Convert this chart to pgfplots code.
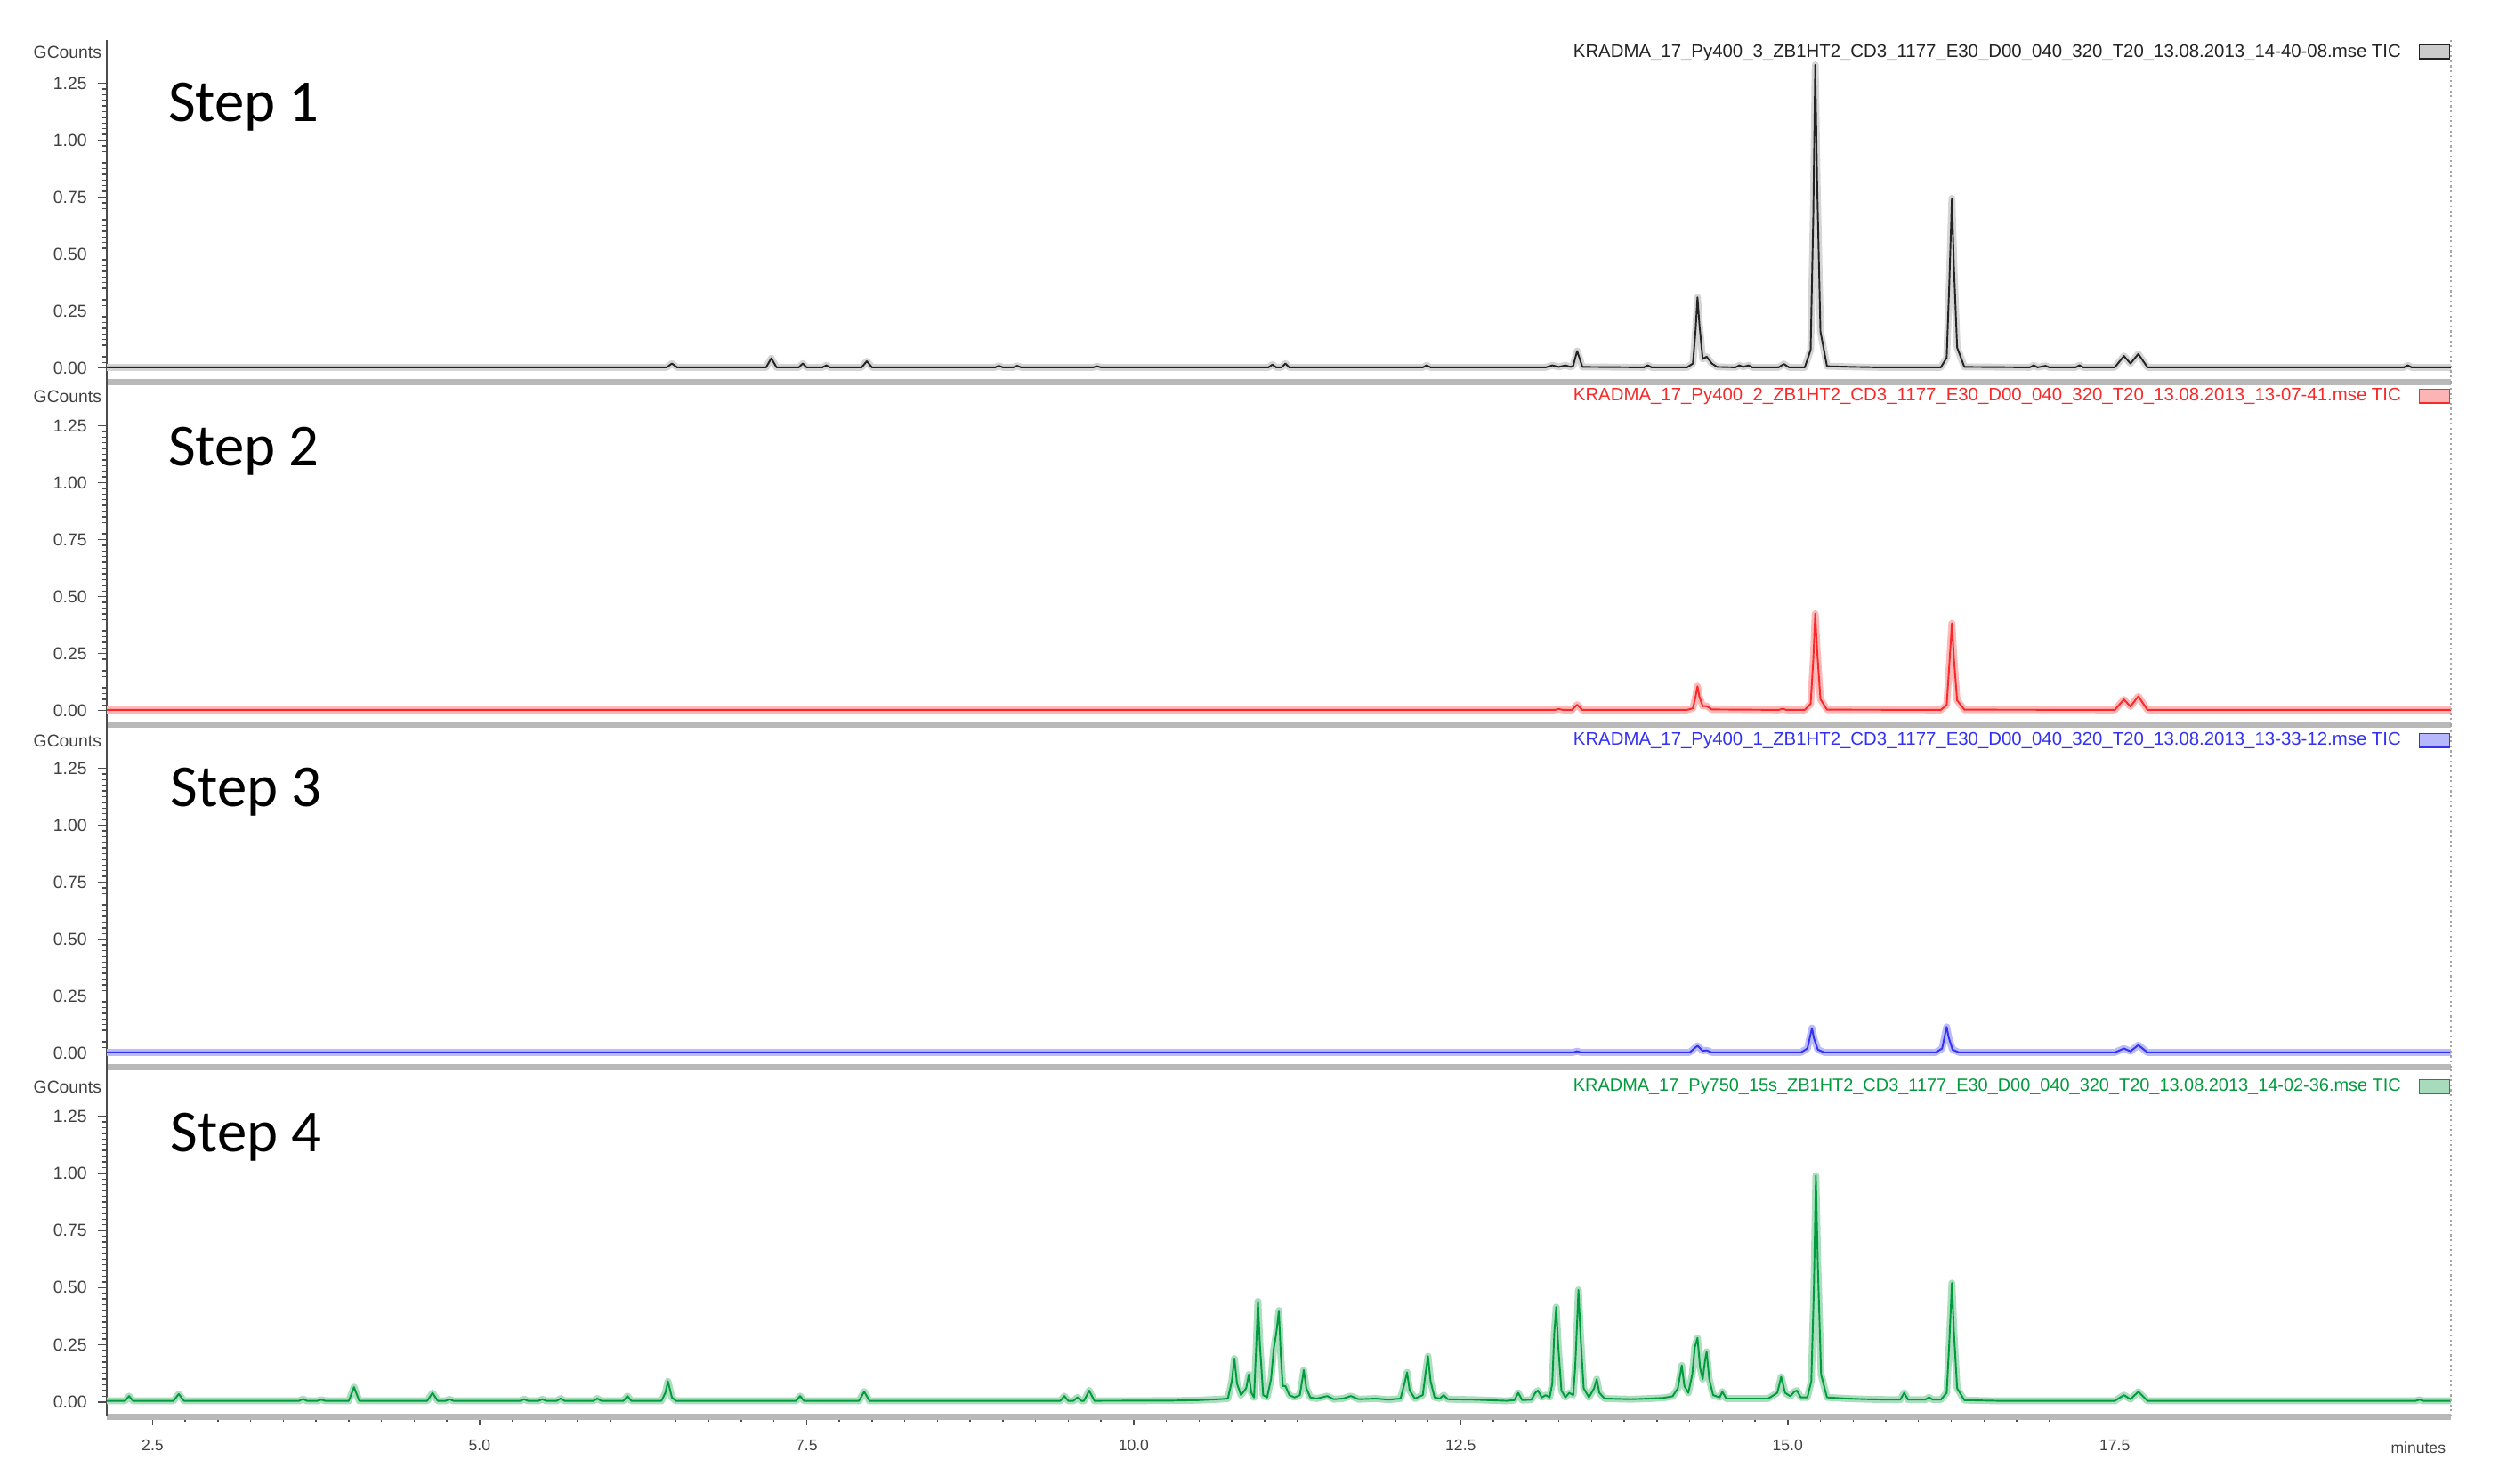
\documentclass[border=0pt]{standalone}
\usepackage{pgfplots}
\usepackage{pgfplotstable}
\pgfplotsset{compat=1.18}
\usepackage{fontspec}
\setmainfont{Liberation Sans}
\newfontfamily\stepfont{Carlito}
\definecolor{cK}{RGB}{35,35,35}
\definecolor{cR}{RGB}{250,40,40}
\definecolor{cB}{RGB}{50,50,245}
\definecolor{cG}{RGB}{0,155,60}

\pgfplotstableread[row sep=\\]{
x y\\
2.15 0.003\\ 6.43 0.003\\ 6.47 0.02\\ 6.51 0.003\\
7.19 0.003\\ 7.23 0.043\\ 7.27 0.003\\ 7.44 0.003\\ 7.47 0.02\\ 7.50 0.003\\
7.62 0.003\\ 7.65 0.012\\ 7.68 0.003\\ 7.92 0.003\\ 7.96 0.03\\ 8.00 0.003\\
8.94 0.003\\ 8.97 0.01\\ 9.00 0.003\\ 9.08 0.003\\ 9.11 0.01\\ 9.14 0.003\\
9.69 0.003\\ 9.72 0.008\\ 9.75 0.003\\ 11.03 0.003\\ 11.06 0.015\\ 11.09 0.003\\
11.13 0.003\\ 11.16 0.02\\ 11.19 0.003\\ 12.21 0.003\\ 12.24 0.012\\ 12.27 0.003\\
13.15 0.003\\ 13.20 0.012\\ 13.25 0.005\\ 13.30 0.012\\ 13.34 0.005\\
13.36 0.01\\ 13.39 0.075\\ 13.43 0.005\\ 13.90 0.003\\ 13.93 0.012\\ 13.96 0.003\\
14.23 0.003\\ 14.275 0.02\\ 14.295 0.16\\ 14.31 0.31\\ 14.325 0.19\\ 14.35 0.04\\ 14.38 0.05\\ 14.42 0.02\\ 14.46 0.005\\
14.60 0.003\\ 14.63 0.012\\ 14.66 0.005\\ 14.70 0.012\\ 14.73 0.003\\
14.93 0.003\\ 14.97 0.018\\ 15.01 0.003\\
15.13 0.003\\ 15.175 0.08\\ 15.195 0.66\\ 15.21 1.33\\ 15.225 0.8\\ 15.25 0.16\\ 15.30 0.008\\
15.50 0.005\\ 15.70 0.003\\
16.17 0.003\\ 16.215 0.045\\ 16.235 0.37\\ 16.255 0.745\\ 16.27 0.45\\ 16.295 0.09\\ 16.35 0.005\\
16.85 0.003\\ 16.88 0.012\\ 16.91 0.003\\ 16.97 0.01\\ 17.00 0.003\\
17.20 0.003\\ 17.23 0.012\\ 17.26 0.003\\
17.50 0.003\\ 17.57 0.053\\ 17.62 0.02\\ 17.68 0.062\\ 17.75 0.003\\
19.71 0.003\\ 19.74 0.012\\ 19.77 0.003\\ 20.07 0.003\\
}\tA

\pgfplotstableread[row sep=\\]{
x y\\
2.15 0.003\\ 13.22 0.003\\ 13.25 0.007\\ 13.28 0.003\\
13.35 0.003\\ 13.39 0.026\\ 13.43 0.003\\
14.23 0.003\\ 14.275 0.01\\ 14.295 0.06\\ 14.31 0.107\\ 14.325 0.06\\ 14.35 0.02\\ 14.38 0.02\\ 14.42 0.005\\
14.93 0.003\\ 14.96 0.008\\ 14.99 0.003\\
15.13 0.003\\ 15.175 0.03\\ 15.195 0.22\\ 15.21 0.425\\ 15.225 0.26\\ 15.25 0.05\\ 15.30 0.004\\
16.17 0.003\\ 16.215 0.025\\ 16.235 0.2\\ 16.255 0.383\\ 16.27 0.23\\ 16.295 0.045\\ 16.35 0.004\\
17.50 0.003\\ 17.57 0.049\\ 17.62 0.018\\ 17.68 0.063\\ 17.75 0.003\\
20.07 0.003\\
}\tB

\pgfplotstableread[row sep=\\]{
x y\\
2.15 0.003\\ 13.36 0.003\\ 13.39 0.008\\ 13.42 0.003\\
14.25 0.003\\ 14.31 0.032\\ 14.35 0.01\\ 14.38 0.012\\ 14.42 0.003\\
15.10 0.003\\ 15.15 0.02\\ 15.17 0.07\\ 15.185 0.11\\ 15.20 0.065\\ 15.23 0.015\\ 15.28 0.003\\
16.13 0.003\\ 16.18 0.02\\ 16.20 0.075\\ 16.215 0.115\\ 16.23 0.07\\ 16.26 0.015\\ 16.31 0.003\\
17.50 0.003\\ 17.57 0.02\\ 17.62 0.008\\ 17.68 0.035\\ 17.75 0.003\\
20.07 0.003\\
}\tC

\pgfplotstableread[row sep=\\]{
x y\\
2.15 0.005\\ 2.29 0.005\\ 2.32 0.026\\ 2.35 0.005\\ 2.66 0.005\\ 2.70 0.035\\ 2.74 0.005\\
3.62 0.005\\ 3.65 0.013\\ 3.68 0.005\\ 3.76 0.005\\ 3.79 0.01\\ 3.82 0.005\\
4.00 0.005\\ 4.04 0.065\\ 4.08 0.005\\ 4.60 0.005\\ 4.64 0.04\\ 4.68 0.005\\
4.74 0.005\\ 4.77 0.012\\ 4.80 0.005\\ 5.31 0.005\\ 5.34 0.012\\ 5.37 0.005\\
5.45 0.005\\ 5.48 0.012\\ 5.51 0.005\\ 5.59 0.005\\ 5.62 0.015\\ 5.65 0.005\\
5.87 0.005\\ 5.90 0.015\\ 5.93 0.005\\ 6.10 0.005\\ 6.13 0.026\\ 6.16 0.005\\
6.39 0.005\\ 6.42 0.04\\ 6.44 0.09\\ 6.47 0.02\\ 6.50 0.005\\
7.42 0.005\\ 7.45 0.026\\ 7.48 0.005\\ 7.90 0.005\\ 7.94 0.045\\ 7.98 0.005\\
9.44 0.005\\ 9.47 0.026\\ 9.50 0.005\\ 9.54 0.005\\ 9.57 0.02\\ 9.60 0.005\\
9.62 0.005\\ 9.66 0.05\\ 9.70 0.005\\
10.30 0.006\\ 10.50 0.008\\ 10.65 0.012\\
10.72 0.015\\ 10.75 0.09\\ 10.77 0.19\\ 10.79 0.08\\ 10.82 0.03\\
10.86 0.06\\ 10.88 0.12\\ 10.90 0.04\\ 10.92 0.02\\
10.935 0.22\\ 10.95 0.44\\ 10.965 0.25\\ 10.99 0.03\\ 11.02 0.02\\
11.05 0.1\\ 11.07 0.23\\ 11.09 0.3\\ 11.11 0.40\\ 11.125 0.2\\ 11.14 0.07\\ 11.16 0.07\\ 11.19 0.03\\ 11.23 0.02\\
11.27 0.03\\ 11.29 0.1\\ 11.30 0.14\\ 11.32 0.06\\ 11.35 0.02\\
11.40 0.015\\ 11.48 0.026\\ 11.53 0.012\\ 11.60 0.015\\ 11.66 0.026\\ 11.72 0.012\\ 11.85 0.015\\ 11.95 0.01\\
12.04 0.015\\ 12.07 0.08\\ 12.09 0.13\\ 12.11 0.05\\ 12.15 0.015\\
12.21 0.03\\ 12.23 0.12\\ 12.25 0.20\\ 12.27 0.09\\ 12.30 0.02\\ 12.34 0.015\\ 12.37 0.03\\ 12.40 0.012\\
12.60 0.01\\ 12.85 0.005\\ 12.91 0.008\\ 12.94 0.04\\ 12.97 0.008\\
13.04 0.01\\ 13.07 0.04\\ 13.09 0.05\\ 13.12 0.02\\ 13.15 0.03\\ 13.18 0.02\\
13.20 0.08\\ 13.215 0.3\\ 13.23 0.415\\ 13.245 0.25\\ 13.27 0.05\\ 13.30 0.02\\ 13.33 0.04\\ 13.36 0.03\\
13.375 0.15\\ 13.39 0.35\\ 13.40 0.49\\ 13.415 0.3\\ 13.44 0.06\\ 13.48 0.02\\
13.52 0.06\\ 13.54 0.10\\ 13.56 0.04\\ 13.60 0.015\\
13.80 0.012\\ 13.95 0.015\\ 14.05 0.018\\ 14.12 0.025\\
14.16 0.06\\ 14.19 0.16\\ 14.21 0.07\\ 14.24 0.04\\
14.27 0.12\\ 14.29 0.24\\ 14.31 0.28\\ 14.33 0.15\\ 14.35 0.1\\ 14.37 0.19\\ 14.38 0.22\\ 14.40 0.1\\ 14.43 0.03\\
14.48 0.02\\ 14.50 0.045\\ 14.53 0.015\\ 14.70 0.015\\ 14.85 0.015\\
14.92 0.04\\ 14.95 0.11\\ 14.98 0.04\\ 15.02 0.025\\ 15.05 0.045\\ 15.07 0.05\\ 15.10 0.02\\
15.15 0.02\\ 15.18 0.09\\ 15.20 0.5\\ 15.215 0.99\\ 15.23 0.6\\ 15.255 0.12\\ 15.30 0.02\\
15.45 0.015\\ 15.60 0.012\\ 15.80 0.01\\ 15.86 0.01\\ 15.89 0.04\\ 15.92 0.01\\
16.05 0.01\\ 16.08 0.02\\ 16.11 0.01\\
16.17 0.01\\ 16.215 0.04\\ 16.235 0.26\\ 16.255 0.52\\ 16.27 0.31\\ 16.295 0.06\\ 16.35 0.008\\
16.60 0.005\\ 16.90 0.005\\
17.50 0.005\\ 17.57 0.03\\ 17.62 0.012\\ 17.68 0.045\\ 17.75 0.005\\
19.80 0.005\\ 19.83 0.01\\ 19.86 0.005\\ 20.07 0.005\\
}\tD

\pgfplotsset{
  chrom/.style={
    scale only axis, width=26.34cm, height=3.85cm,
    xmin=2.15, xmax=20.07, ymin=-0.063, ymax=1.44,
    clip mode=individual,
    axis x line*=bottom, axis y line*=left,
    x axis line style={line width=2pt, draw=gray!55, -},
    y axis line style={line width=0.8pt, draw=black!70, -},
    ytick={0,0.25,0.5,0.75,1,1.25}, minor y tick num=9,
    yticklabel style={font=\fontsize{5.5}{6}\selectfont, text=black!75,
      /pgf/number format/.cd, fixed, fixed zerofill, precision=2},
    /pgf/number format/assume math mode=true,
    tick align=outside, major tick length=0.1cm, minor tick length=0.055cm,
    every tick/.style={black!70, line width=0.4pt},
    xtick=\empty,
  },
  halo/.style={line width=2.2pt, #1!33, line join=round},
  core/.style={line width=0.55pt, #1, line join=round},
}

\begin{document}
\begin{tikzpicture}
\useasboundingbox (0,0) rectangle (28.08cm,-16.67cm);

% Panel 1
\begin{axis}[chrom, at={(1.2cm,-0.448cm)}, anchor=north west]
\addplot[halo=gray, forget plot] table {\tA};
\addplot[core=cK] table {\tA};
\draw[gray!70, densely dotted, line width=0.6pt] (rel axis cs:1,0) -- (rel axis cs:1,1);
\node[anchor=east, font=\fontsize{5.5}{6}\selectfont, text=black!75, inner sep=0pt, xshift=-1.5pt] at (rel axis cs:0,0.963) {GCounts};
\node[anchor=west, font=\stepfont\fontsize{19}{22}\selectfont, inner sep=0pt] at (rel axis cs:0.026,0.805) {Step 1};
\node[anchor=east, inner sep=0pt, text=cK] at (rel axis cs:0.979,0.963) {\resizebox{9.3cm}{!}{\fontsize{5}{6}\selectfont KRADMA\_17\_Py400\_3\_ZB1HT2\_CD3\_1177\_E30\_D00\_040\_320\_T20\_13.08.2013\_14-40-08.mse TIC}};
\draw[cK, fill=gray!40, line width=0.4pt] (rel axis cs:0.9865,0.945) rectangle (rel axis cs:0.9995,0.985);
\end{axis}

% Panel 2
\begin{axis}[chrom, at={(1.2cm,-4.298cm)}, anchor=north west]
\addplot[halo=cR, forget plot] table {\tB};
\addplot[core=cR] table {\tB};
\draw[gray!70, densely dotted, line width=0.6pt] (rel axis cs:1,0) -- (rel axis cs:1,1);
\node[anchor=east, font=\fontsize{5.5}{6}\selectfont, text=black!75, inner sep=0pt, xshift=-1.5pt] at (rel axis cs:0,0.958) {GCounts};
\node[anchor=west, font=\stepfont\fontsize{19}{22}\selectfont, inner sep=0pt] at (rel axis cs:0.026,0.80) {Step 2};
\node[anchor=east, inner sep=0pt, text=cR] at (rel axis cs:0.979,0.958) {\resizebox{9.3cm}{!}{\fontsize{5}{6}\selectfont KRADMA\_17\_Py400\_2\_ZB1HT2\_CD3\_1177\_E30\_D00\_040\_320\_T20\_13.08.2013\_13-07-41.mse TIC}};
\draw[cR, fill=cR!35, line width=0.4pt] (rel axis cs:0.9865,0.94) rectangle (rel axis cs:0.9995,0.98);
\end{axis}

% Panel 3
\begin{axis}[chrom, at={(1.2cm,-8.148cm)}, anchor=north west]
\addplot[halo=cB, forget plot] table {\tC};
\addplot[core=cB] table {\tC};
\draw[gray!70, densely dotted, line width=0.6pt] (rel axis cs:1,0) -- (rel axis cs:1,1);
\node[anchor=east, font=\fontsize{5.5}{6}\selectfont, text=black!75, inner sep=0pt, xshift=-1.5pt] at (rel axis cs:0,0.953) {GCounts};
\node[anchor=west, font=\stepfont\fontsize{19}{22}\selectfont, inner sep=0pt] at (rel axis cs:0.027,0.805) {Step 3};
\node[anchor=east, inner sep=0pt, text=cB] at (rel axis cs:0.979,0.953) {\resizebox{9.3cm}{!}{\fontsize{5}{6}\selectfont KRADMA\_17\_Py400\_1\_ZB1HT2\_CD3\_1177\_E30\_D00\_040\_320\_T20\_13.08.2013\_13-33-12.mse TIC}};
\draw[cB, fill=cB!35, line width=0.4pt] (rel axis cs:0.9865,0.935) rectangle (rel axis cs:0.9995,0.975);
\end{axis}

% Panel 4
\begin{axis}[chrom, at={(1.2cm,-11.998cm)}, anchor=north west, height=3.922cm, ymax=1.463,
  xtick={2.5,5,7.5,10,12.5,15,17.5}, minor x tick num=9,
  xticklabel style={font=\fontsize{5}{6}\selectfont, text=black!75, yshift=-1pt,
    /pgf/number format/.cd, fixed, fixed zerofill, precision=1},
  x axis line style={line width=2pt, draw=gray!55, -}]
\addplot[halo=cG, forget plot] table {\tD};
\addplot[core=cG] table {\tD};
\draw[gray!70, densely dotted, line width=0.6pt] (rel axis cs:1,0) -- (rel axis cs:1,1);
\node[anchor=east, font=\fontsize{5.5}{6}\selectfont, text=black!75, inner sep=0pt, xshift=-1.5pt] at (rel axis cs:0,0.945) {GCounts};
\node[anchor=west, font=\stepfont\fontsize{19}{22}\selectfont, inner sep=0pt] at (rel axis cs:0.027,0.80) {Step 4};
\node[anchor=east, inner sep=0pt, text=cG] at (rel axis cs:0.979,0.945) {\resizebox{9.3cm}{!}{\fontsize{5}{6}\selectfont KRADMA\_17\_Py750\_15s\_ZB1HT2\_CD3\_1177\_E30\_D00\_040\_320\_T20\_13.08.2013\_14-02-36.mse TIC}};
\draw[cG, fill=cG!35, line width=0.4pt] (rel axis cs:0.9865,0.925) rectangle (rel axis cs:0.9995,0.965);
\node[anchor=north east, font=\fontsize{5}{6}\selectfont, text=black!75, inner sep=0pt, yshift=-0.28cm] at (rel axis cs:0.998,0) {minutes};
\end{axis}
\end{tikzpicture}
\end{document}
